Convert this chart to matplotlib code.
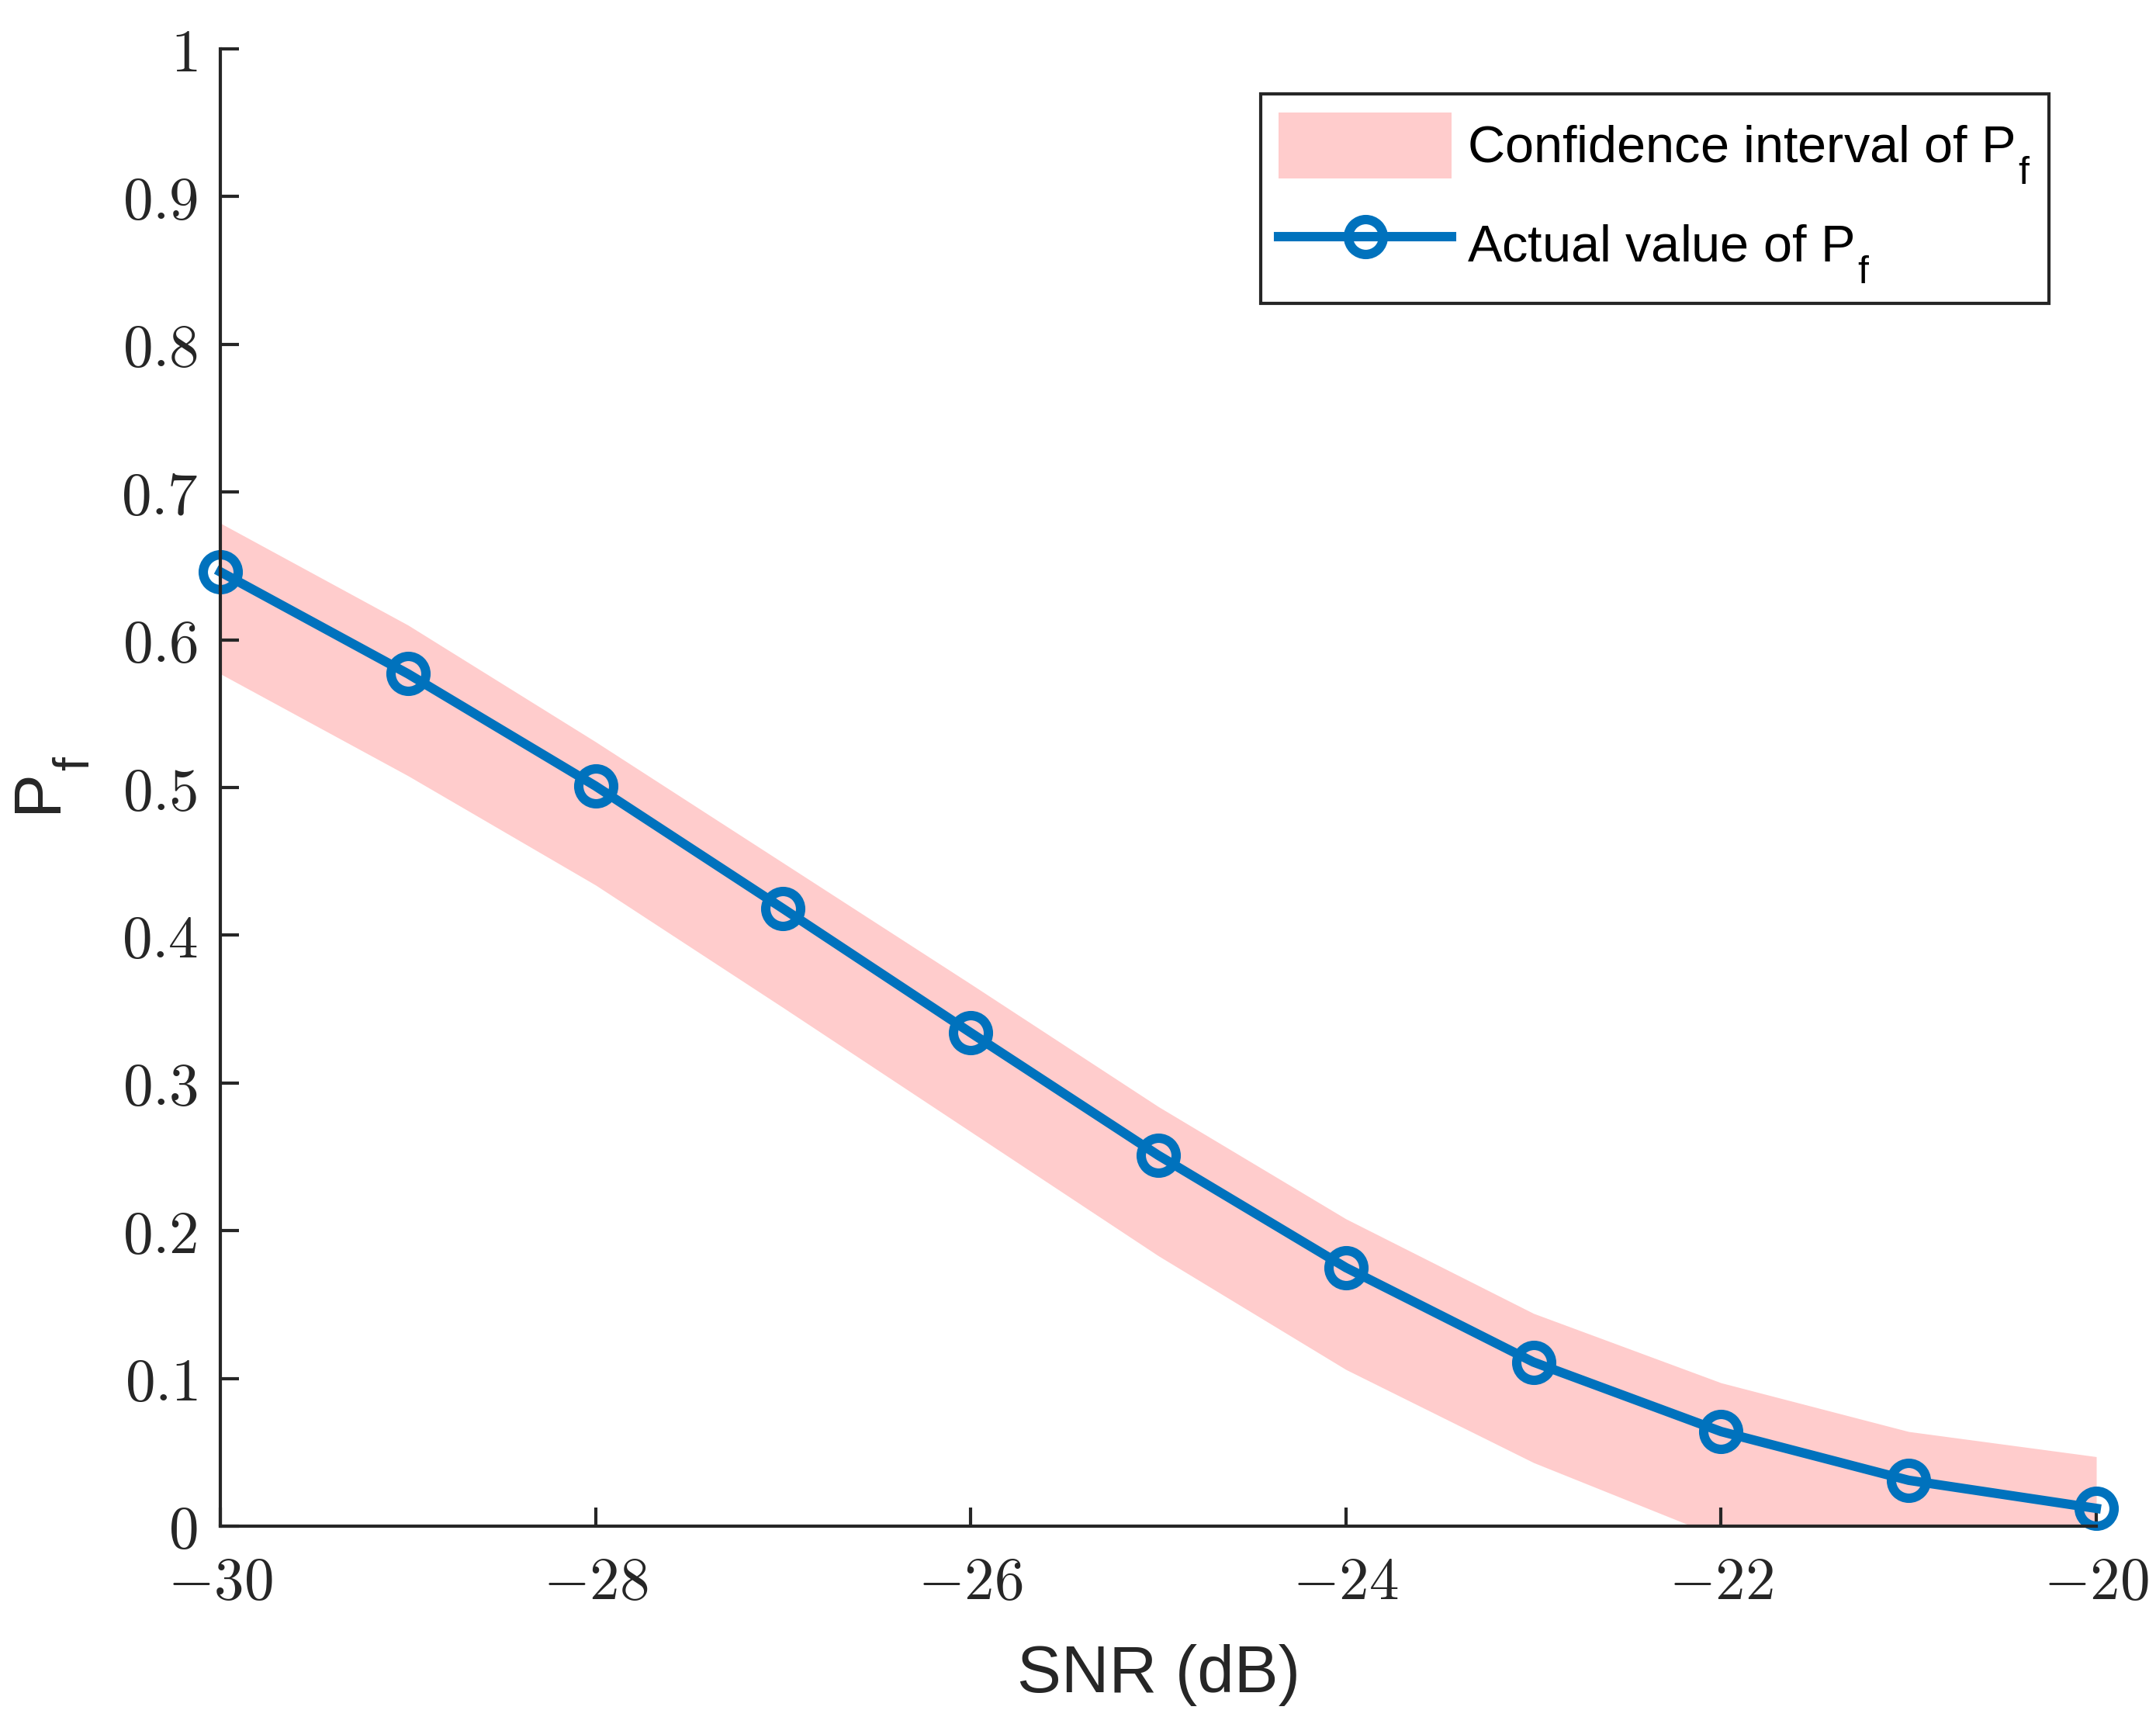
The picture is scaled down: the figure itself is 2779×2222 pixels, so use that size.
import matplotlib
matplotlib.use("Agg")
import matplotlib.pyplot as plt
from matplotlib.ticker import FixedLocator, FixedFormatter
from matplotlib import _mathtext

# Dados
snr = [-30, -29, -28, -27, -26, -25, -24, -23, -22, -21, -20]
pf_real = [0.646, 0.577, 0.501, 0.418, 0.334, 0.251, 0.175, 0.111, 0.064, 0.031, 0.012]
pf_sup = [0.679, 0.610, 0.531, 0.449, 0.367, 0.284, 0.208, 0.144, 0.097, 0.064, 0.047]
pf_inf = [0.577, 0.508, 0.434, 0.351, 0.267, 0.183, 0.106, 0.043, -0.008, -0.035, -0.045]

xticks = [-30, -28, -26, -24, -22, -20]
yticks = [0, 0.1, 0.2, 0.3, 0.4, 0.5, 0.6, 0.7, 0.8, 0.9, 1]

# subscrito mais baixo e maior, como no estilo do MATLAB
_mathtext.SHRINK_FACTOR = 0.75
for const in set(_mathtext._font_constant_mapping.values()) | {_mathtext.FontConstantsBase}:
    const.sub1 = 0.5

plt.rcParams['font.family'] = ['Liberation Sans', 'DejaVu Sans']
plt.rcParams['mathtext.fontset'] = 'cm'

cor_eixo = "#262626"
azul = "#0072BD"
rosa = "#FFCCCC"

fig = plt.figure(figsize=(2779 / 300, 2222 / 300), dpi=300)
ax = fig.add_axes([0.1022, 0.1148, 0.8701, 0.8568])

ax.fill_between(snr, pf_inf, pf_sup, color=rosa, linewidth=0, zorder=1,
                label=r"Confidence interval of P$_\mathregular{f}$")
ax.plot(snr, pf_real, color=azul, linewidth=2.9, marker="o", markersize=10.8,
        markeredgewidth=2.9, markerfacecolor="none", clip_on=False, zorder=2,
        label=r"Actual value of P$_\mathregular{f}$")

ax.set_xlim(-30, -20)
ax.set_ylim(0, 1)

ax.xaxis.set_major_locator(FixedLocator(xticks))
ax.xaxis.set_major_formatter(FixedFormatter([r"$%d$" % v for v in xticks]))
ax.yaxis.set_major_locator(FixedLocator(yticks))
ax.yaxis.set_major_formatter(FixedFormatter([r"$%g$" % v for v in yticks]))

for lado in ["top", "right"]:
    ax.spines[lado].set_visible(False)
for lado in ["left", "bottom"]:
    ax.spines[lado].set_linewidth(1.0)
    ax.spines[lado].set_color(cor_eixo)

ax.tick_params(axis="both", direction="in", length=5.8, width=1.0, color=cor_eixo,
               labelcolor=cor_eixo, labelsize=18.5)
ax.tick_params(axis="x", pad=9)
ax.tick_params(axis="y", pad=7)

ax.set_xlabel("SNR (dB)", fontsize=20.5, color=cor_eixo, labelpad=10)
ax.set_ylabel(r"P$_\mathregular{f}$", fontsize=20.5, color=cor_eixo, labelpad=9)

leg = ax.legend(loc="upper right", bbox_to_anchor=(0.9748, 0.9695), borderaxespad=0,
                fontsize=16.0, handlelength=3.35, handleheight=1.6, handletextpad=0.3,
                labelspacing=0.5, borderpad=0.35, fancybox=False, framealpha=1)
leg.get_frame().set_edgecolor(cor_eixo)
leg.get_frame().set_linewidth(1.0)

fig.savefig("out.png", dpi=300)
